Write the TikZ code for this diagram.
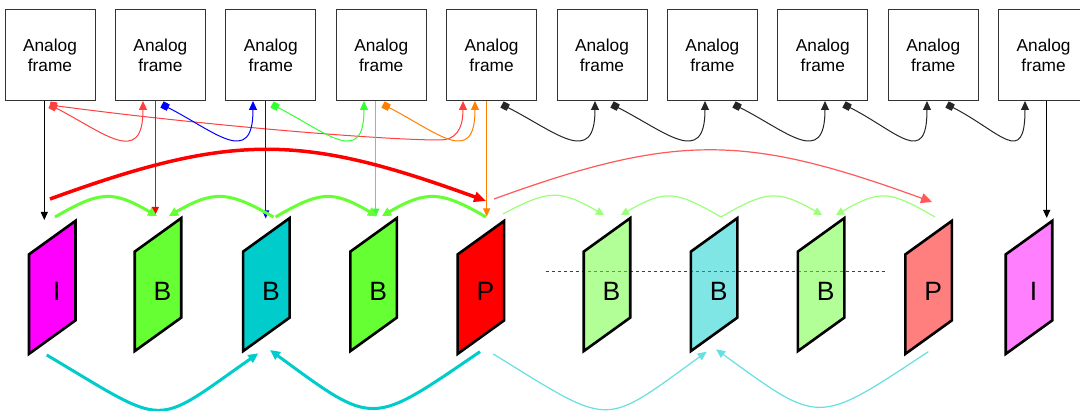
\documentclass[tikz,border=0pt]{standalone}
\usepackage{fontspec}
\setmainfont{Liberation Sans}
\usetikzlibrary{arrows.meta,calc}

\definecolor{framegreen}{HTML}{66FF33}
\definecolor{framecyan}{HTML}{00CCCC}
\definecolor{framemag}{HTML}{FF00FF}
\definecolor{framered}{HTML}{FF0000}
\definecolor{linkorange}{HTML}{FF8000}
\definecolor{linkgreen}{HTML}{33FF33}
\definecolor{boxline}{HTML}{333333}

\tikzset{
  analog/.style={draw=boxline, line width=1pt, minimum width=90pt, minimum height=91pt,
    inner sep=0pt, outer sep=0pt, align=center, font=\fontsize{17.3}{20}\selectfont},
  letter/.style={inner sep=0pt, font=\fontsize{26.5}{30}\selectfont},
  picframe/.style={draw=black, line width=2.6pt, line join=miter},
  feed/.style={line width=1pt, -{Triangle[length=8pt,width=7pt]}},
  hop/.style={line width=1pt, {Square[length=7pt,width=7pt]}-{Triangle[length=9pt,width=8pt]}},
  bigred/.style={line width=3.5pt, framered, -{Triangle[length=12pt,width=10pt]}},
  thinred/.style={line width=1.2pt, framered!65, -{Triangle[length=11pt,width=10pt]}},
  thickgreen/.style={line width=3pt, framegreen, -{Triangle[length=9pt,width=9pt]}},
  thingreen/.style={line width=1.2pt, framegreen!65, -{Triangle[length=8pt,width=8pt]}},
  thickcyan/.style={line width=3pt, framecyan, -{Triangle[length=10pt,width=9pt]}},
  thincyan/.style={line width=1.2pt, framecyan!60, -{Triangle[length=9pt,width=8pt]}},
  guide/.style={line width=0.9pt, black!75, dash pattern=on 3.5pt off 2.5pt},
}

% curved link between neighbouring analog frames
\newcommand\hoplink[5]{%
  \draw[hop, #1] ($(#2.south)+(#3)$) .. controls +(53,27) and +(0,67) .. ($(#4.south)+(#5)$);
}

% coded picture: name, fill colour, fill opacity, letter, letter shift
\newcommand\vframe[5]{%
  \filldraw[picframe, fill=#2, fill opacity=#3]
    ($(#1)+(-23.25,-33)$) -- ($(#1)+(23.25,-66.5)$) -- ($(#1)+(23.25,33)$)
    -- ($(#1)+(-23.25,66.5)$) -- cycle;
  \node[letter] (#1txt) at ($(#1)+(4.5,#5)$) {#4};
}

\begin{document}
\begin{tikzpicture}[x=1pt,y=-1pt]
\useasboundingbox[fill=white] (0,0) rectangle (1080,411);

% analog source frames
\foreach \i in {0,...,9}
  \node[analog] (f\i) at ({50+110.4*\i},55.5) {Analog\\frame};

% centres of the coded pictures
\coordinate (q0) at (52.2,287.4);
\coordinate (q1) at (158,284.6);
\coordinate (q2) at (266.4,284.6);
\coordinate (q3) at (373.6,284.6);
\coordinate (q4) at (480.9,287.4);
\coordinate (q5) at (607,284.6);
\coordinate (q6) at (714.1,284.6);
\coordinate (q7) at (821.1,284.6);
\coordinate (q8) at (928.6,287.4);
\coordinate (q9) at (1029,287.4);

% links between analog frames
\hoplink{red!75}{f0}{0,4}{f1}{-17.4,0}
\draw[hop, red!75] ($(f0.south)+(0,4)$) .. controls +(150,20) and +(-60,0) ..
  ($(f4.south)+(-51.6,39)$) .. controls +(15,0) and +(0,29) .. ($(f4.south)+(-28.6,0)$);
\hoplink{blue}{f1}{1.6,3.5}{f2}{-17.8,0}
\hoplink{linkgreen}{f2}{1.2,3.5}{f3}{-17.2,0}
\hoplink{linkorange}{f3}{1.8,3.5}{f4}{-16.6,0}
\hoplink{black!85}{f4}{10.4,3.5}{f5}{-7,0}
\hoplink{black!85}{f5}{10,3.5}{f6}{-7.4,0}
\hoplink{black!85}{f6}{21.6,3.5}{f7}{2.2,0}
\hoplink{black!85}{f7}{21.2,3.5}{f8}{-6.2,0}
\hoplink{black!85}{f8}{13.8,3.5}{f9}{-18.6,0}

% frames fed down to the encoder
\draw[feed, black] ($(f0.south)+(-5.7,0)$) -- ($(f0.south)+(-5.7,119)$);
\draw[feed, red] ($(f1.south)+(-5.1,0)$) -- ($(f1.south)+(-5.1,114)$);
\draw[feed, blue] ($(f2.south)+(-5.1,0)$) -- ($(f2.south)+(-5.1,117.5)$);
\draw[feed, linkgreen] ($(f3.south)+(-5.5,0)$) -- ($(f3.south)+(-5.5,115.7)$);
\draw[feed, linkorange] ($(f4.south)+(-4.9,0)$) -- ($(f4.south)+(-4.9,115.5)$);
\draw[feed, black] ($(f9.south)+(3.1,0)$) -- ($(f9.south)+(3.1,117)$);

% forward prediction of P pictures
\draw[bigred] ($(q0)+(-2.2,-88.4)$) .. controls +(184,-67) and +(-184,-67) .. ($(q4)+(5.1,-86.4)$);
\draw[thinred] ($(q4)+(13.1,-88.4)$) .. controls +(184,-67) and +(-184,-67) .. ($(q8)+(3.4,-85.4)$);

% references of the outer B pictures
\draw[thickgreen] ($(q0)+(2.8,-70.4)$) .. controls +(45,-26) and +(-45,-26) .. ($(q1)+(-1,-68.6)$);
\draw[thickgreen] ($(q2)+(7.1,-67.6)$) .. controls +(-45,-26) and +(45,-26) .. ($(q1)+(11,-68.6)$);
\draw[thickgreen] ($(q2)+(9.1,-67.6)$) .. controls +(45,-26) and +(-45,-26) .. ($(q3)+(3.4,-68.6)$);
\draw[thickgreen] ($(q4)+(5.1,-70.4)$) .. controls +(-45,-26) and +(45,-26) .. ($(q3)+(8.4,-68.6)$);
\draw[thingreen] ($(q4)+(22.1,-73.4)$) .. controls +(45,-24) and +(-45,-26) .. ($(q5)+(-3,-69.6)$);
\draw[thingreen] ($(q6)+(6.9,-67.6)$) .. controls +(-45,-26) and +(45,-26) .. ($(q5)+(14,-69.6)$);
\draw[thingreen] ($(q6)+(6.9,-67.6)$) .. controls +(45,-26) and +(-45,-26) .. ($(q7)+(0.9,-69.6)$);
\draw[thingreen] ($(q8)+(6.4,-70.4)$) .. controls +(-45,-26) and +(45,-26) .. ($(q7)+(14.9,-69.6)$);

% group boundary
\draw[guide] (545.8,271.7) -- (886,271.7);

% coded pictures
\vframe{q0}{framemag}{1}{I}{3.8}
\vframe{q1}{framegreen}{1}{B}{6.6}
\vframe{q2}{framecyan}{1}{B}{6.6}
\vframe{q3}{framegreen}{1}{B}{6.6}
\vframe{q4}{framered}{1}{P}{3.8}
\vframe{q5}{framegreen}{0.5}{B}{6.6}
\vframe{q6}{framecyan}{0.5}{B}{6.6}
\vframe{q7}{framegreen}{0.5}{B}{6.6}
\vframe{q8}{framered}{0.5}{P}{3.8}
\vframe{q9}{framemag}{0.5}{I}{3.8}

% references of the middle B pictures
\draw[thickcyan] ($(q0)+(-5.5,67.6)$) .. controls +(123,73) and +(-107,75) .. ($(q2)+(-8.1,68.7)$);
\draw[thickcyan] ($(q4)+(-0.9,64.3)$) .. controls +(-110,75) and +(105,77) .. ($(q2)+(3.6,65.4)$);
\draw[thincyan] ($(q4)+(12.4,66.6)$) .. controls +(120,74) and +(-105,76) .. ($(q6)+(-7.4,67.1)$);
\draw[thincyan] ($(q8)+(-0.3,64.3)$) .. controls +(-112,74) and +(105,76) .. ($(q6)+(1.9,64.7)$);
\end{tikzpicture}
\end{document}
